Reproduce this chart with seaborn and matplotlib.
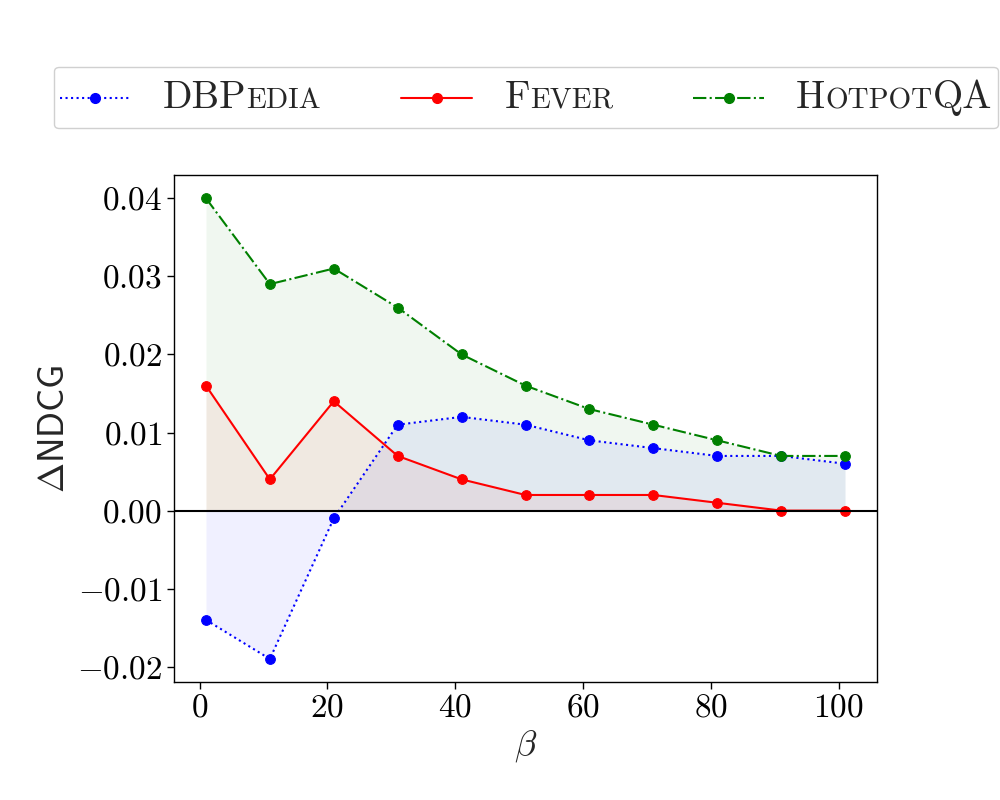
import matplotlib
matplotlib.use("Agg")
import matplotlib.pyplot as plt
import numpy as np
import pandas as pd
import seaborn as sns
from matplotlib.lines import Line2D
from matplotlib.offsetbox import AnchoredOffsetbox, HPacker, TextArea, DrawingArea

# data
beta = [1, 11, 21, 31, 41, 51, 61, 71, 81, 91, 101]
dbpedia = [-0.014, -0.019, -0.001, 0.011, 0.012, 0.011, 0.009, 0.008, 0.007, 0.007, 0.006]
fever = [0.016, 0.004, 0.014, 0.007, 0.004, 0.002, 0.002, 0.002, 0.001, 0.000, 0.000]
hotpotqa = [0.040, 0.029, 0.031, 0.026, 0.020, 0.016, 0.013, 0.011, 0.009, 0.007, 0.007]

# (values, colour, linestyle, small-caps label pieces)
series = [
    (dbpedia, "blue", ":", [("DBP", 28), ("EDIA", 21)]),
    (fever, "red", "-", [("F", 28), ("EVER", 21)]),
    (hotpotqa, "green", "-.", [("H", 28), ("OTPOT", 21), ("QA", 28)]),
]

sns.set_style("ticks")
plt.rcParams["font.family"] = ["cmr10", "DejaVu Serif"]
plt.rcParams["mathtext.fontset"] = "cm"
plt.rcParams["axes.formatter.use_mathtext"] = True
plt.rcParams["axes.edgecolor"] = "black"
plt.rcParams["xtick.color"] = "black"
plt.rcParams["ytick.color"] = "black"

fig = plt.figure(figsize=(10, 8), dpi=100)
ax = fig.add_axes([0.174, 0.1475, 0.703, 0.6335])

for vals, color, ls, _ in series:
    df = pd.DataFrame({"beta": beta, "v": vals})
    sns.lineplot(data=df, x="beta", y="v", ax=ax, color=color, linestyle=ls,
                 linewidth=1.5, marker="o", markersize=7, markeredgecolor=color)
    ax.fill_between(beta, vals, 0, color=color, alpha=0.06, linewidth=0)

ax.axhline(0, color="black", linewidth=1.5)
ax.set_xticks([0, 20, 40, 60, 80, 100])
ax.set_yticks([-0.02, -0.01, 0.0, 0.01, 0.02, 0.03, 0.04])
ax.tick_params(labelsize=24, length=5, width=1, direction="out")
ax.set_xlabel(r"$\beta$", fontsize=26)
ax.set_ylabel(r"$\mathsf{\Delta NDCG}$", fontsize=26)
for s in ax.spines.values():
    s.set_linewidth(1)

# legend with small-caps style labels
entries = []
for vals, color, ls, pieces in series:
    da = DrawingArea(51, 36, 0, 0)
    da.add_artist(Line2D([0, 51], [18, 18], color=color, linestyle=ls, linewidth=1.5))
    da.add_artist(Line2D([25.5], [18], color=color, marker="o", markersize=7))
    txt = HPacker(children=[TextArea(p, textprops=dict(size=sz, family="cmr10"))
                            for p, sz in pieces], align="baseline", pad=0, sep=0)
    entries.append(HPacker(children=[da, txt], align="center", pad=0, sep=23))
box = HPacker(children=entries, align="center", pad=0, sep=58)
leg = AnchoredOffsetbox(loc="upper center", child=box, pad=0.4, borderpad=0,
                        frameon=True, bbox_to_anchor=(0.526, 0.916),
                        bbox_transform=fig.transFigure)
leg.patch.set_boxstyle("round,pad=0,rounding_size=0.3")
leg.patch.set_edgecolor("#d0d0d0")
leg.patch.set_linewidth(1)
fig.add_artist(leg)

fig.savefig("out.png", dpi=100)
